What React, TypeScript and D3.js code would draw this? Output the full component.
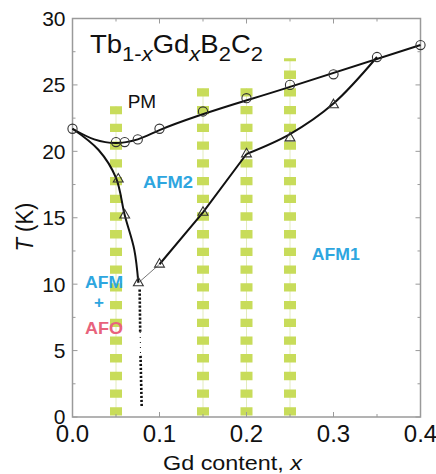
import React from "react";
import * as d3 from "d3";

// measured points (Gd content x, temperature T in K)
const pmX = [0, 0.05, 0.06, 0.075, 0.1, 0.15, 0.2, 0.25, 0.3, 0.35, 0.4];
const pmT = [21.7, 20.7, 20.7, 20.9, 21.7, 23.0, 24.0, 25.0, 25.8, 27.1, 28.0];
const afmX = [0.0526, 0.06, 0.0757, 0.1, 0.15, 0.2, 0.25, 0.3];
const afmT = [17.9, 15.2, 10.1, 11.5, 15.4, 19.8, 21.0, 23.5];

// guide-to-the-eye lines
const pmCurve: [number, number][] = [[0, 21.7], [0.025, 20.9], [0.05, 20.62], [0.075, 20.9], [0.1, 21.6], [0.25, 24.85], [0.4, 28.0]];
const afm2Left: [number, number][] = [[0, 21.7], [0.03, 20.1], [0.05, 18.0], [0.06, 15.2], [0.071, 12.6], [0.0757, 10.1]];
const afm1Lower: [number, number][] = [[0.1, 11.5], [0.15, 15.4], [0.2, 19.8]];
const afm1Upper: [number, number][] = [[0.2, 19.8], [0.25, 21.3], [0.3, 23.6], [0.35, 27.1]];
const thinLink: [number, number][] = [[0.0757, 10.1], [0.1, 11.5]];
const afoBoundary: [number, number][] = [[0.0772, 9.6], [0.0778, 6.4], [0.0782, 4.6], [0.0795, 0.8]];

// green stripes (samples measured)
const stripeX = [0.05, 0.15, 0.2, 0.25];
const stripeTop = [23.4, 24.75, 24.75, 27.0];

const xTicks = [0, 0.1, 0.2, 0.3, 0.4];
const xMinor = [0.05, 0.15, 0.25, 0.35];
const yTicks = [0, 5, 10, 15, 20, 25, 30];
const yMinor = [2.5, 7.5, 12.5, 17.5, 22.5, 27.5];

const W = 436;
const H = 474;
const font = "'Liberation Sans', Arial, sans-serif";
const blue = "#2ea6df";
const red = "#e8637c";
const green = "#c8dc5a";

export default function App() {
  const x = d3.scaleLinear().domain([0, 0.4]).range([72.5, 420.5]);
  const y = d3.scaleLinear().domain([0, 30]).range([417, 18.5]);
  const [x0, x1] = x.range();
  const [y0, y1] = y.range();

  const line = (curve: d3.CurveFactory) =>
    d3
      .line<[number, number]>()
      .x((d) => x(d[0]))
      .y((d) => y(d[1]))
      .curve(curve);

  const tri = d3.symbol().type(d3.symbolTriangle).size(42)();
  const frame = "#9a9a9a";

  return (
    <svg width={W} height={H} style={{ position: "absolute", left: 0, top: 0, background: "#fff" }} fontFamily={font}>
      {/* stripes */}
      {stripeX.map((sx, i) => (
        <g key={"s" + i}>
          <line x1={x(sx)} x2={x(sx)} y1={y(0)} y2={y(stripeTop[i])} stroke="#e3ecbd" strokeWidth={1} />
          <line
            x1={x(sx)}
            x2={x(sx)}
            y1={y(0)}
            y2={y(stripeTop[i])}
            stroke={green}
            strokeWidth={12}
            strokeDasharray="8.3 9.42"
            strokeDashoffset={16.3}
          />
        </g>
      ))}

      {/* frame */}
      <rect x={x0} y={y1} width={x1 - x0} height={y0 - y1} fill="none" stroke={frame} strokeWidth={1.5} />
      {xTicks.concat(xMinor).map((t, i) => {
        const len = i < xTicks.length ? 5 : 3;
        return (
          <g key={"xt" + i} stroke={frame} strokeWidth={1}>
            <line x1={x(t)} x2={x(t)} y1={y0} y2={y0 - len} />
            <line x1={x(t)} x2={x(t)} y1={y1} y2={y1 + len} />
          </g>
        );
      })}
      {yTicks.concat(yMinor).map((t, i) => {
        const len = i < yTicks.length ? 5 : 3;
        return (
          <g key={"yt" + i} stroke={frame} strokeWidth={1}>
            <line x1={x0} x2={x0 + len} y1={y(t)} y2={y(t)} />
            <line x1={x1} x2={x1 - len} y1={y(t)} y2={y(t)} />
          </g>
        );
      })}
      {xTicks.map((t) => (
        <text key={"xl" + t} x={x(t)} y={442} textAnchor="middle" fontSize={24} fill="#111">
          {d3.format(".1f")(t)}
        </text>
      ))}
      {yTicks.map((t) => (
        <text key={"yl" + t} x={65.5} y={y(t) + 7.4} textAnchor="end" fontSize={21} fill="#111">
          {t}
        </text>
      ))}
      <text x={232.5} y={470} textAnchor="middle" fontSize={21} textLength={139} lengthAdjust="spacingAndGlyphs" fill="#111">
        Gd content, <tspan fontStyle="italic">x</tspan>
      </text>
      <g transform="translate(33,227) scale(1.1,1) rotate(-90)">
        <text x={0} y={0} textAnchor="middle" fontSize={22} fill="#111">
          <tspan fontStyle="italic">T</tspan> (K)
        </text>
      </g>

      {/* lines */}
      <path d={line(d3.curveMonotoneX)(pmCurve) || ""} fill="none" stroke="#111" strokeWidth={2} />
      <path d={line(d3.curveCatmullRom)(afm2Left) || ""} fill="none" stroke="#111" strokeWidth={2} />
      <path d={line(d3.curveLinear)(afm1Lower) || ""} fill="none" stroke="#111" strokeWidth={2} />
      <path d={line(d3.curveCatmullRom)(afm1Upper) || ""} fill="none" stroke="#111" strokeWidth={2} />
      <path d={line(d3.curveLinear)(thinLink) || ""} fill="none" stroke="#777" strokeWidth={1} />
      {afoBoundary.slice(0, -1).map((p, i) => (
        <path
          key={"d" + i}
          d={line(d3.curveLinear)([p, afoBoundary[i + 1]]) || ""}
          fill="none"
          stroke="#111"
          strokeWidth={i === 1 ? 1 : 2.6}
          strokeDasharray={i === 1 ? "1 4" : "2.2 1.8"}
        />
      ))}

      {/* markers */}
      {pmX.map((px, i) => (
        <circle key={"c" + i} cx={x(px)} cy={y(pmT[i])} r={4.6} fill="none" stroke="#333" strokeWidth={1.1} />
      ))}
      {afmX.map((ax, i) => (
        <path
          key={"t" + i}
          d={tri || ""}
          transform={`translate(${x(ax)},${y(afmT[i])})`}
          fill="none"
          stroke="#333"
          strokeWidth={1.1}
        />
      ))}

      {/* labels */}
      <g transform="translate(90,53) scale(1.1,1)">
        <text x={0} y={0} fontSize={25} fill="#111">
          Tb
          <tspan fontSize={20} dy={8}>1-</tspan>
          <tspan fontSize={20} fontStyle="italic">x</tspan>
          <tspan dy={-8}>Gd</tspan>
          <tspan fontSize={20} fontStyle="italic" dy={8}>x</tspan>
          <tspan dy={-8}>B</tspan>
          <tspan fontSize={20} dy={8}>2</tspan>
          <tspan dy={-8}>C</tspan>
          <tspan fontSize={20} dy={8}>2</tspan>
        </text>
      </g>
      <text x={127.7} y={108} fontSize={19} fill="#111">PM</text>
      <text x={143} y={188} fontSize={17} fontWeight="bold" fill={blue} textLength={50} lengthAdjust="spacingAndGlyphs">AFM2</text>
      <text x={311.7} y={260} fontSize={17} fontWeight="bold" fill={blue} textLength={48} lengthAdjust="spacingAndGlyphs">AFM1</text>
      <text x={85} y={288} fontSize={17} fontWeight="bold" fill={blue} textLength={38} lengthAdjust="spacingAndGlyphs">AFM</text>
      <text x={99} y={308} fontSize={17} fontWeight="bold" fill={blue} textAnchor="middle">+</text>
      <text x={85} y={334} fontSize={17} fontWeight="bold" fill={red} textLength={38} lengthAdjust="spacingAndGlyphs">AFO</text>
    </svg>
  );
}
